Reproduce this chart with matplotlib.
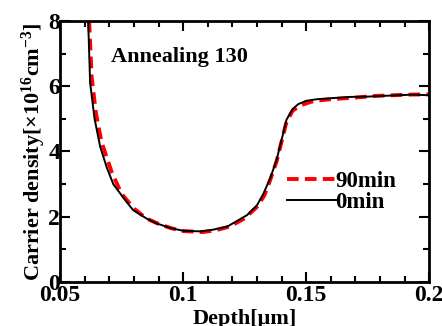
import matplotlib
matplotlib.use("Agg")
import matplotlib.pyplot as plt
from matplotlib.ticker import MultipleLocator

# 0 min curve
depth_0 = [0.0614, 0.0622, 0.0640, 0.0663, 0.0690, 0.0716, 0.0760, 0.0797, 0.0850, 0.0890,
           0.0950, 0.1000, 0.1070, 0.1120, 0.1180, 0.1260, 0.1300, 0.1326, 0.1355, 0.1380,
           0.1400, 0.1420, 0.1445, 0.1468, 0.1500, 0.1544, 0.1600, 0.1680, 0.1750, 0.1810,
           0.1870, 0.1935, 0.2000]
dens_0 = [8.0, 6.1, 5.0, 4.14, 3.5, 3.0, 2.55, 2.2, 1.95, 1.8,
          1.65, 1.57, 1.55, 1.6, 1.7, 2.05, 2.35, 2.7, 3.2, 3.75,
          4.35, 4.97, 5.3, 5.45, 5.55, 5.6, 5.63, 5.67, 5.68, 5.7,
          5.72, 5.74, 5.72]

# 90 min curve
depth_90 = [0.0618, 0.0628, 0.0645, 0.0668, 0.0690, 0.0711, 0.0750, 0.0800, 0.0850, 0.0900,
            0.0950, 0.1000, 0.1080, 0.1130, 0.1190, 0.1250, 0.1300, 0.1330, 0.1355, 0.1380,
            0.1400, 0.1420, 0.1445, 0.1480, 0.1520, 0.1550, 0.1600, 0.1700, 0.1780, 0.1850,
            0.1920, 0.2000]
dens_90 = [8.0, 6.3, 5.2, 4.3, 3.8, 3.34, 2.7, 2.25, 1.95, 1.78,
           1.65, 1.56, 1.53, 1.58, 1.7, 1.95, 2.3, 2.65, 3.15, 3.7,
           4.3, 4.9, 5.25, 5.42, 5.52, 5.56, 5.6, 5.65, 5.7, 5.72,
           5.74, 5.75]

plt.rcParams['font.family'] = ['Liberation Serif', 'DejaVu Serif']
plt.rcParams['font.weight'] = 'bold'
plt.rcParams['mathtext.fontset'] = 'custom'
plt.rcParams['mathtext.rm'] = 'Liberation Serif:bold'
plt.rcParams['mathtext.it'] = 'Liberation Serif:bold'
plt.rcParams['mathtext.bf'] = 'Liberation Serif:bold'

fig = plt.figure(figsize=(4.42, 3.26), dpi=100)
ax = fig.add_axes([0.136, 0.135, 0.835, 0.801])

ax.plot(depth_90, dens_90, color='red', linestyle=(0, (3, 1.6)), linewidth=2.8, label='90min')
ax.plot(depth_0, dens_0, color='black', linewidth=1.4, label='0min')

ax.set_xlim(0.05, 0.2)
ax.set_ylim(0, 8)
ax.set_xticks([0.05, 0.1, 0.15, 0.2])
ax.set_xticklabels(['0.05', '0.1', '0.15', '0.2'])
ax.set_yticks([0, 2, 4, 6, 8])
ax.xaxis.set_minor_locator(MultipleLocator(0.01))
ax.yaxis.set_minor_locator(MultipleLocator(1))
ax.tick_params(which='both', direction='in', top=True, right=True, width=1.5, labelsize=17, pad=0)
ax.tick_params(axis='x', which='major', pad=2)
ax.tick_params(which='major', length=7)
ax.tick_params(which='minor', length=4)
for s in ax.spines.values():
    s.set_linewidth(2)

ax.set_xlabel('Depth[\u03bcm]', fontsize=16, fontweight='bold', labelpad=2)
ax.set_ylabel('Carrier density[\u00d710$^{16}$cm$^{-3}$]', fontsize=16, fontweight='bold', labelpad=0)

ax.text(0.0707, 6.9, 'Annealing 130', fontsize=16, fontweight='bold', va='center')

leg = ax.legend(loc='center left', bbox_to_anchor=(0.585, 0.345), frameon=False,
                fontsize=16.5, handlelength=2.1, handletextpad=0.0, labelspacing=0.0,
                borderpad=0)

fig.savefig('out.png', dpi=100)
